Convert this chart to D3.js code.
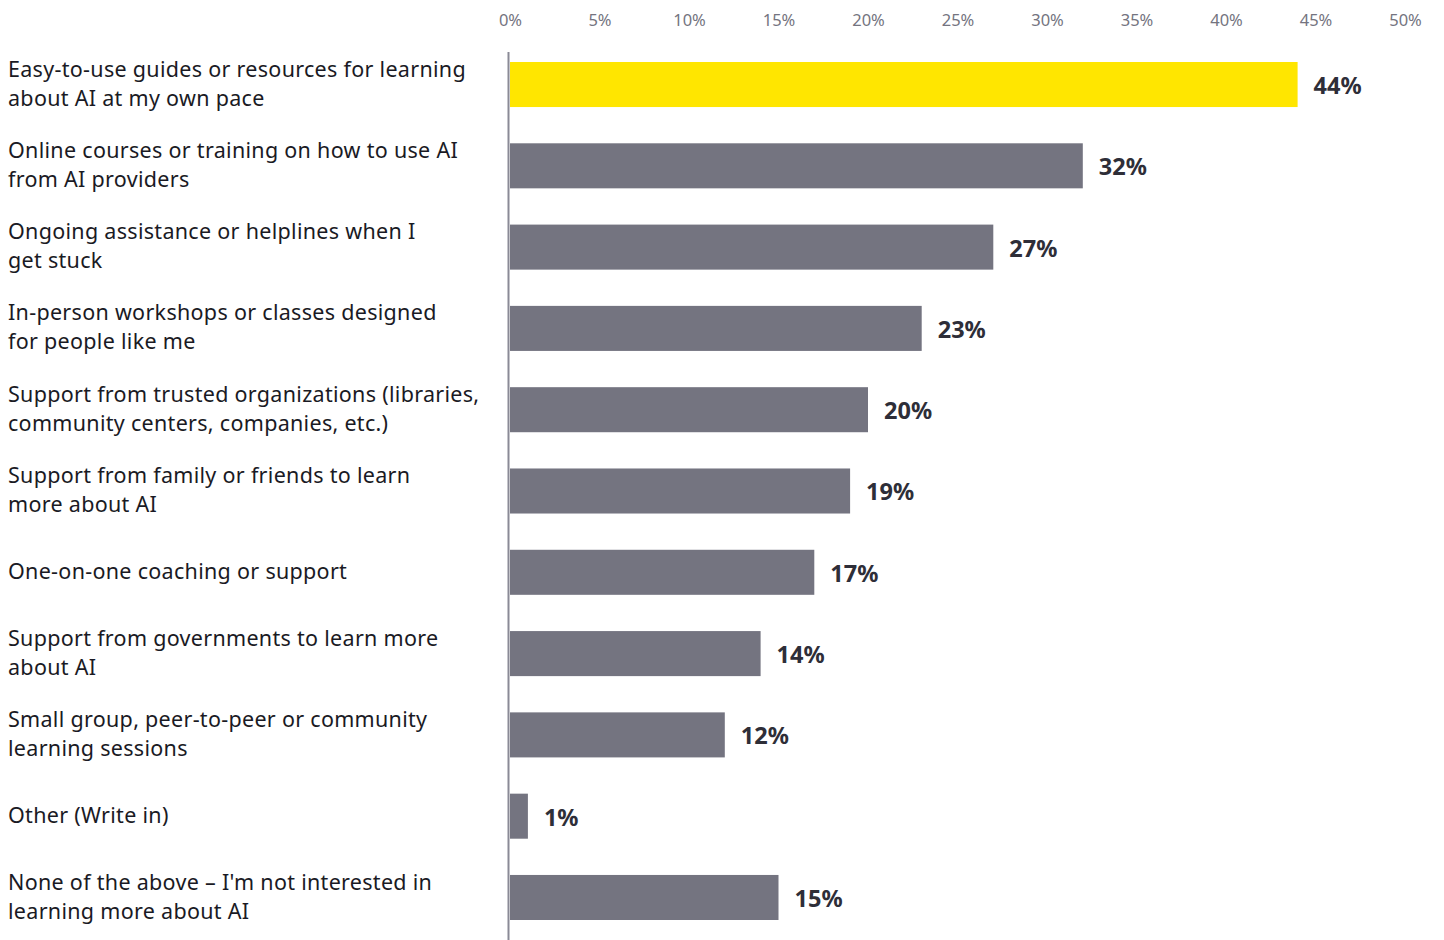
<!DOCTYPE html>
<html>
<head>
<meta charset="utf-8">
<script src="https://cdn.jsdelivr.net/npm/d3@7"></script>
<style>
  html, body { margin: 0; padding: 0; background: #fff; }
  svg { display: block; }
</style>
</head>
<body>
<svg id="chart" width="1444" height="940"></svg>
<script>
// Survey responses: support wanted for learning about AI
const categories = [
  "Easy-to-use guides or resources for learning\nabout AI at my own pace",
  "Online courses or training on how to use AI\nfrom AI providers",
  "Ongoing assistance or helplines when I\nget stuck",
  "In-person workshops or classes designed\nfor people like me",
  "Support from trusted organizations (libraries,\ncommunity centers, companies, etc.)",
  "Support from family or friends to learn\nmore about AI",
  "One-on-one coaching or support",
  "Support from governments to learn more\nabout AI",
  "Small group, peer-to-peer or community\nlearning sessions",
  "Other (Write in)",
  "None of the above – I'm not interested in\nlearning more about AI"
];
const values = [44, 32, 27, 23, 20, 19, 17, 14, 12, 1, 15];
const highlighted = [true, false, false, false, false, false, false, false, false, false, false];
const tickValues = [0, 5, 10, 15, 20, 25, 30, 35, 40, 45, 50];

const svg = d3.select("#chart");
const font = "'Noto Sans', 'Open Sans', sans-serif";

const x = d3.scaleLinear().domain([0, 50]).range([510, 1405]);
const y = d3.scaleBand()
  .domain(d3.range(categories.length))
  .range([62, 920])
  .paddingInner(0.446)
  .paddingOuter(0);

// Top axis with percent labels, no domain line or tick marks
const axis = svg.append("g")
  .attr("transform", "translate(0,20)")
  .call(d3.axisTop(x).tickValues(tickValues).tickFormat(d => d + "%").tickSize(0).tickPadding(0));
axis.select(".domain").remove();
axis.selectAll("text")
  .attr("dy", "0.35em")
  .attr("fill", "#747480")
  .style("font-family", font)
  .style("font-size", "16.5px");

// Bars
svg.append("g").selectAll("rect")
  .data(values)
  .join("rect")
  .attr("x", x(0))
  .attr("y", (d, i) => y(i))
  .attr("width", d => x(d) - x(0))
  .attr("height", y.bandwidth())
  .attr("fill", (d, i) => highlighted[i] ? "#FFE600" : "#747480");

// Baseline
svg.append("line")
  .attr("x1", x(0) - 1.5).attr("x2", x(0) - 1.5)
  .attr("y1", 52).attr("y2", 940)
  .attr("stroke", "#8a8a96")
  .attr("stroke-width", 2);

// Value labels
svg.append("g").selectAll("text")
  .data(values)
  .join("text")
  .attr("x", d => x(d) + 16)
  .attr("y", (d, i) => y(i) + y.bandwidth() / 2 + 1)
  .attr("dy", "0.36em")
  .attr("fill", "#2E2E38")
  .style("font-family", font)
  .style("font-size", "23.5px")
  .style("font-weight", "700")
  .text(d => d + "%");

// Category labels, one tspan per line, centred on the bar
const lineHeight = 29;
const labels = svg.append("g").selectAll("text")
  .data(categories)
  .join("text")
  .attr("fill", "#1a1a24")
  .style("font-family", font)
  .style("font-size", "21.5px")
  .style("letter-spacing", "0.3px");
labels.each(function(d, i) {
  const lines = d.split("\n");
  const cy = y(i) + y.bandwidth() / 2 - 1;
  const top = cy - (lines.length - 1) * lineHeight / 2;
  d3.select(this).selectAll("tspan")
    .data(lines)
    .join("tspan")
    .attr("x", 8)
    .attr("y", (l, k) => top + k * lineHeight)
    .attr("dy", "0.35em")
    .text(l => l);
});
</script>
</body>
</html>
